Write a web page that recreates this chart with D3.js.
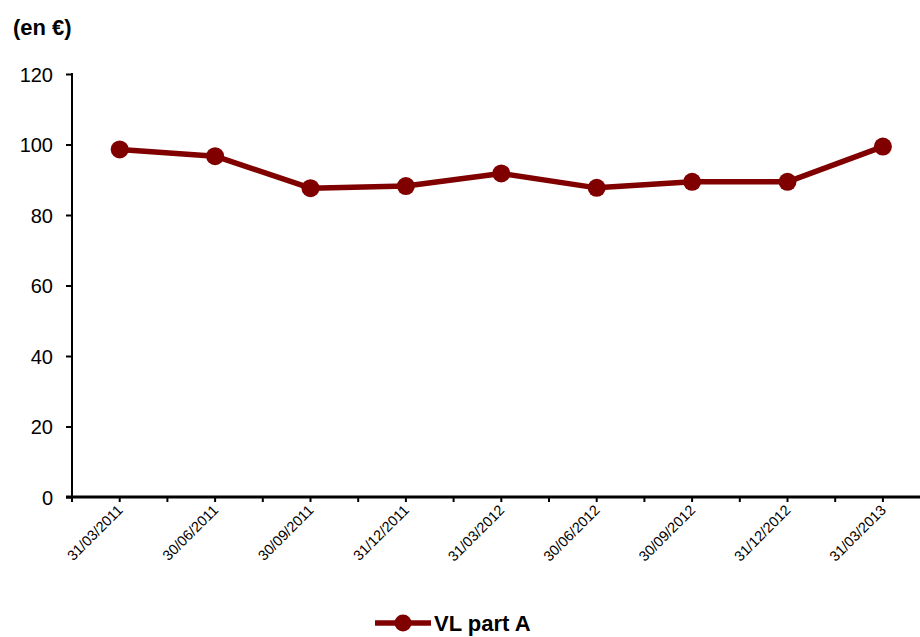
<!DOCTYPE html>
<html>
<head>
<meta charset="utf-8">
<script src="https://cdn.jsdelivr.net/npm/d3@7"></script>
<style>
  html, body { margin: 0; padding: 0; background: #fff; }
  svg { display: block; font-family: "Liberation Sans", Arial, sans-serif; }
</style>
</head>
<body>
<svg id="chart" width="920" height="637"></svg>
<script>
// Quarterly net asset value of unit A
const dates = ["31/03/2011", "30/06/2011", "30/09/2011", "31/12/2011", "31/03/2012",
               "30/06/2012", "30/09/2012", "31/12/2012", "31/03/2013"];
const vlPartA = [98.6, 96.7, 87.6, 88.2, 91.8, 87.7, 89.4, 89.4, 99.4];
const yTicks = [0, 20, 40, 60, 80, 100, 120];
const seriesName = "VL part A";
const unitLabel = "(en €)";

const svg = d3.select("#chart");
const color = "#800000";

const plotLeft = 72, plotTop = 74, plotBottom = 497;
// half-quarter slots: each date sits on an odd slot, minor ticks on every slot
const slots = dates.length * 2;
const x = d3.scaleLinear().domain([0, slots]).range([plotLeft, plotLeft + slots * 47.7]);
const y = d3.scaleLinear().domain([0, 120]).range([plotBottom, plotTop]);
const xPos = i => x(2 * i + 1);

// Y axis
const yAxis = svg.append("g")
  .attr("transform", `translate(${plotLeft},0)`)
  .call(d3.axisLeft(y).tickValues(yTicks).tickSize(6).tickPadding(13));
yAxis.select(".domain").attr("stroke", "#000").attr("stroke-width", 2)
  .attr("d", `M0,${plotTop - 1}V${plotBottom}`);
yAxis.selectAll(".tick line").attr("stroke", "#000").attr("stroke-width", 2);
yAxis.selectAll(".tick text").attr("font-size", 20).attr("fill", "#000")
  .attr("dy", "0.36em")
  .attr("font-family", "Liberation Sans, Arial, sans-serif");

// X axis
const xAxis = svg.append("g").attr("transform", `translate(0,${plotBottom})`);
xAxis.append("line")
  .attr("x1", plotLeft - 6).attr("x2", 920)
  .attr("stroke", "#000").attr("stroke-width", 3);
xAxis.selectAll("line.minor")
  .data(d3.range(0, slots + 1))
  .join("line")
  .attr("class", "minor")
  .attr("x1", d => x(d)).attr("x2", d => x(d))
  .attr("y1", 0).attr("y2", 5)
  .attr("stroke", "#000").attr("stroke-width", 2);
xAxis.selectAll("text.lbl")
  .data(dates)
  .join("text")
  .attr("class", "lbl")
  .attr("transform", (d, i) => `translate(${xPos(i) + 4},${14}) rotate(-45)`)
  .attr("text-anchor", "end")
  .attr("font-size", 14.5)
  .attr("fill", "#000")
  .text(d => d);

// Unit label
svg.append("text")
  .attr("x", 13).attr("y", 35)
  .attr("font-size", 22).attr("font-weight", "bold")
  .attr("fill", "#000")
  .text(unitLabel);

// Series line
const line = d3.line().x((d, i) => xPos(i)).y(d => y(d));
svg.append("path")
  .datum(vlPartA)
  .attr("d", line)
  .attr("fill", "none")
  .attr("stroke", color)
  .attr("stroke-width", 5.5)
  .attr("stroke-linejoin", "round");
svg.selectAll("circle.pt")
  .data(vlPartA)
  .join("circle")
  .attr("class", "pt")
  .attr("cx", (d, i) => xPos(i))
  .attr("cy", d => y(d))
  .attr("r", 9)
  .attr("fill", color);

// Legend
const lg = svg.append("g").attr("transform", "translate(375,623)");
lg.append("line").attr("x1", 0).attr("x2", 56)
  .attr("stroke", color).attr("stroke-width", 5.5);
lg.append("circle").attr("cx", 28).attr("r", 8.5).attr("fill", color);
lg.append("text").attr("x", 59).attr("y", 7.5)
  .attr("font-size", 22).attr("font-weight", "bold").attr("fill", "#000")
  .text(seriesName);
</script>
</body>
</html>
